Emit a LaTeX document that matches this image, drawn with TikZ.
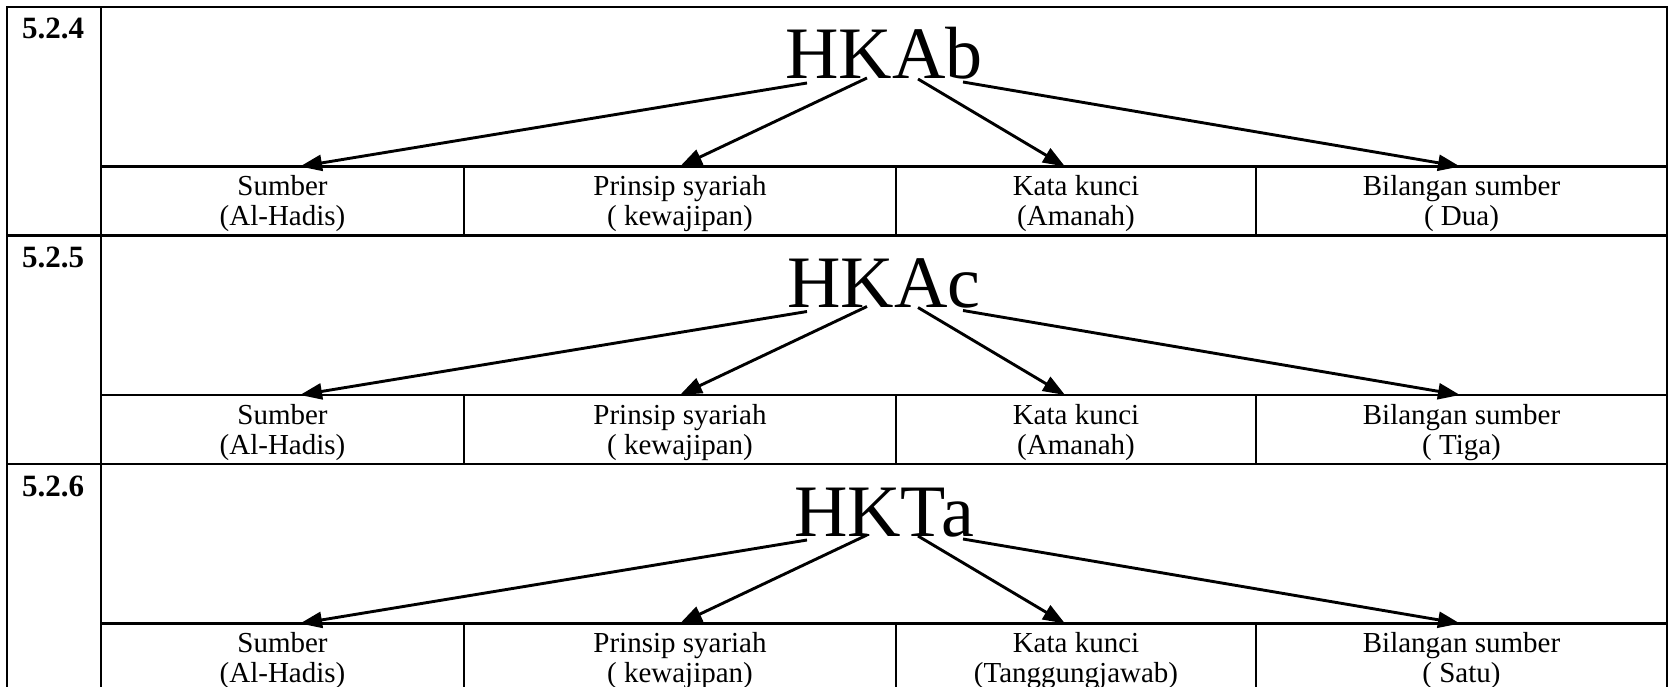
\documentclass[tikz,border=0pt]{standalone}
\usepackage{fontspec}
\setmainfont{Liberation Serif}
\usetikzlibrary{arrows.meta}
\begin{document}
\begin{tikzpicture}[x=1pt,y=-1pt,
  rule/.style={line width=2.6pt},
  arr/.style={line width=2.9pt,-{Triangle[length=22pt,width=16pt]}},
  title/.style={font=\fontsize{74}{74}\selectfont, inner sep=0pt, anchor=base},
  num/.style={font=\bfseries\fontsize{31}{32}\selectfont, inner sep=0pt, anchor=base west},
  cell/.style={font=\fontsize{29}{30}\selectfont, inner sep=0pt, anchor=base}]
\useasboundingbox (0,0) rectangle (1670,687);
\clip (0,0) rectangle (1670,687);
% table frame
\draw[rule] (7,700) -- (7,7) -- (1667,7) -- (1667,700);
\draw[rule] (101,7) -- (101,700);
\draw[rule] (7,235.5) -- (1667,235.5);
\draw[rule] (7,464) -- (1667,464);
\foreach \r/\T/\ttl/\nm/\kk/\bb in {1/7/HKAb/5.2.4/Amanah/Dua,2/235.5/HKAc/5.2.5/Amanah/Tiga,3/464/HKTa/5.2.6/Tanggungjawab/Satu}{
  \pgfmathsetmacro{\I}{\T+159.5}
  \pgfmathsetmacro{\B}{\T+228.5}
  \draw[rule] (101,\I) -- (1667,\I);
  \draw[rule] (464,\I) -- (464,\B);
  \draw[rule] (896,\I) -- (896,\B);
  \draw[rule] (1256,\I) -- (1256,\B);
  \node[num] (n\r) at (22,\T+32) {\nm};
  \node[title] (t\r) at (884,\T+72) {\ttl};
  \node[cell] (a\r) at (282.5,\I+59) {\begin{tabular}[b]{@{}c@{}}Sumber\\(Al-Hadis)\end{tabular}};
  \node[cell] (b\r) at (680,\I+59) {\begin{tabular}[b]{@{}c@{}}Prinsip syariah\\( kewajipan)\end{tabular}};
  \node[cell] (c\r) at (1076,\I+59) {\begin{tabular}[b]{@{}c@{}}Kata kunci\\(\kk)\end{tabular}};
  \node[cell] (d\r) at (1461.5,\I+59) {\begin{tabular}[b]{@{}c@{}}Bilangan sumber\\( \bb)\end{tabular}};
  \coordinate (s\r a) at (807,\T+76);
  \coordinate (s\r b) at (867,\T+71);
  \coordinate (s\r c) at (918,\T+72);
  \coordinate (s\r d) at (963,\T+75);
  \coordinate (e\r a) at (300,\I);
  \coordinate (e\r b) at (680,\I);
  \coordinate (e\r c) at (1065,\I);
  \coordinate (e\r d) at (1460,\I);
  \draw[arr] (s\r a) -- (e\r a);
  \draw[arr] (s\r b) -- (e\r b);
  \draw[arr] (s\r c) -- (e\r c);
  \draw[arr] (s\r d) -- (e\r d);
}
\end{tikzpicture}
\end{document}
